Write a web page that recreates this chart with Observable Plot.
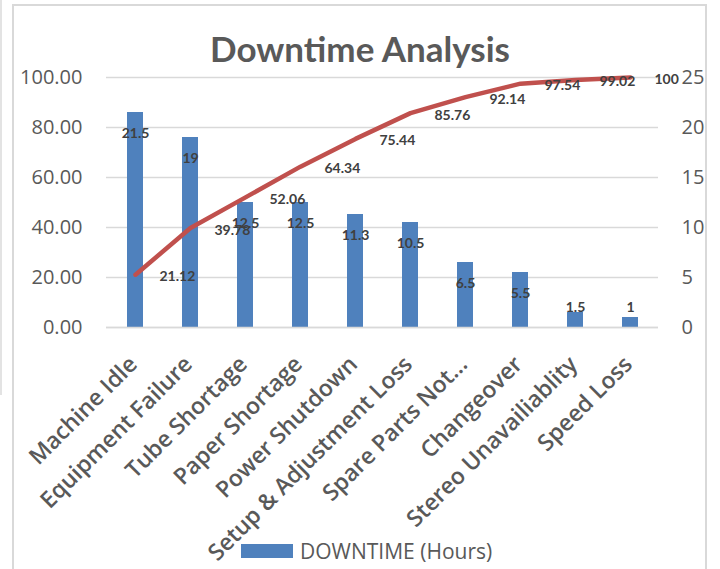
<!DOCTYPE html>
<html>
<head>
<meta charset="utf-8">
<script src="https://cdn.jsdelivr.net/npm/d3@7"></script>
<script src="https://cdn.jsdelivr.net/npm/@observablehq/plot@0.6"></script>
<style>
  html, body { margin: 0; padding: 0; background: #fff; }
  #chart { position: relative; width: 720px; height: 569px; overflow: hidden; }
  #frame { position: absolute; left: 12px; top: 4px; width: 695px; height: 570px; border: 2px solid #d9d9d9; box-sizing: border-box; }
  #edge { position: absolute; left: 0; top: 0; width: 2px; height: 395px; background: #e3e3e3; }
  #title { position: absolute; left: 0; width: 720px; top: 27px; text-align: center; font: bold 35px Lato, sans-serif; color: #595959; }
  #legend { position: absolute; left: 241px; top: 537px; font: 21px "Open Sans", sans-serif; color: #595959; display: flex; align-items: center; }
  #legend .sw { width: 52px; height: 14px; background: #4f81bd; margin-right: 7px; }
  svg { position: absolute; left: 0; top: 0; }
</style>
</head>
<body>
<div id="chart">
  <div id="edge"></div>
  <div id="frame"></div>
  <div id="title">Downtime Analysis</div>
  <div id="legend"><span class="sw"></span><span>DOWNTIME (Hours)</span></div>
</div>
<script>
// Downtime causes, hours lost, and cumulative share of total downtime (%)
const categories = ["Machine Idle", "Equipment Failure", "Tube Shortage", "Paper Shortage", "Power Shutdown",
  "Setup & Adjustment Loss", "Spare Parts Not...", "Changeover", "Stereo Unavailiablity", "Speed Loss"];
const hours = [21.5, 19, 12.5, 12.5, 11.3, 10.5, 6.5, 5.5, 1.5, 1];
const cumulative = [21.12, 39.78, 52.06, 64.34, 75.44, 85.76, 92.14, 97.54, 99.02, 100];
const leftTicks = [0, 20, 40, 60, 80, 100];
const rightTicks = [0, 5, 10, 15, 20, 25];

// Hours sit on the secondary (right) axis: 0–25 maps onto the primary 0–100.
const leftMax = 100, rightMax = 25;
const toLeft = v => v * leftMax / rightMax;

const rows = categories.map((c, i) => ({cause: c, hours: hours[i], cum: cumulative[i]}));

const barColor = "#4f81bd", lineColor = "#c0504d", gridColor = "#d9d9d9", axisText = "#595959", labelText = "#404040";
const labelFont = {fontFamily: "Lato, sans-serif", fontWeight: "bold", fontSize: 14, fill: labelText};

const plot = Plot.plot({
  width: 720,
  height: 569,
  marginTop: 77,
  marginBottom: 242,
  marginLeft: 106,
  marginRight: 62,
  style: {background: "transparent", overflow: "visible", fontFamily: "Open Sans, sans-serif"},
  x: {type: "band", domain: categories, paddingInner: 0.71, paddingOuter: 0.355, label: null},
  y: {domain: [0, leftMax], label: null},
  marks: [
    Plot.gridY(leftTicks, {stroke: gridColor, strokeOpacity: 1, strokeWidth: 1.5}),
    Plot.barY(rows, {x: "cause", y: d => toLeft(d.hours), fill: barColor}),
    Plot.lineY(rows, {x: "cause", y: "cum", stroke: lineColor, strokeWidth: 4.5, strokeLinejoin: "round", strokeLinecap: "round"}),
    // hour labels: inside the bar top, or just above the base for short bars
    Plot.text(rows.filter(d => d.hours >= 3), {x: "cause", y: d => toLeft(d.hours), text: d => String(d.hours), dy: 21, ...labelFont}),
    Plot.text(rows.filter(d => d.hours < 3), {x: "cause", y: 0, text: d => String(d.hours), dy: -20, ...labelFont}),
    // cumulative % labels to the right of each line point
    Plot.text(rows, {x: "cause", y: "cum", text: d => String(d.cum), dx: 24, dy: 2, textAnchor: "start", ...labelFont}),
    Plot.axisY(rightTicks.map(toLeft), {anchor: "left", tickSize: 0, tickPadding: 24, tickFormat: d3.format(".2f"),
      fontSize: 20, fill: axisText, label: null}),
    Plot.axisY(rightTicks.map(toLeft), {anchor: "right", tickSize: 0, tickPadding: 23, tickFormat: d => String(d * rightMax / leftMax),
      fontSize: 20, fill: axisText, label: null}),
    Plot.axisX({tickSize: 0, tickPadding: 33, dx: -2, tickRotate: -45, fontSize: 23, fontWeight: 600,
      fill: axisText, label: null}),
    Plot.ruleY([0], {stroke: gridColor, strokeWidth: 1.5})
  ]
});
document.getElementById("chart").appendChild(plot);
</script>
</body>
</html>
